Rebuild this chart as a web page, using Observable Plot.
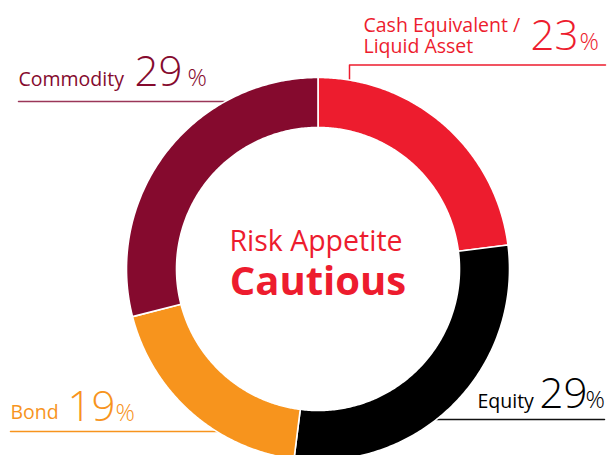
<!DOCTYPE html>
<html><head><meta charset="utf-8">
<script src="https://cdn.jsdelivr.net/npm/d3@7"></script>
<script src="https://cdn.jsdelivr.net/npm/@observablehq/plot@0.6"></script>
<style>
html,body{margin:0;padding:0;background:#fff;}
#chart svg{display:block;}
</style>
</head><body><div id="chart"></div>
<script>
// ---- data ----
const categories = ["Cash Equivalent / Liquid Asset", "Equity", "Bond", "Commodity"];
const labelText = ["Cash Equivalent /\nLiquid Asset", "Equity", "Bond", "Commodity"];
const shares = [23, 29, 19, 29];
const colors = ["#ED1C2E", "#000000", "#F7941D", "#850A2E"];
const lineColors = ["#ED1C2E", "#111111", "#F7941D", "#9A3658"];
const centerTitle = "Risk Appetite";
const centerValue = "Cautious";

// ---- layout (pixels) ----
const W = 611, H = 455;
const cx = 317.5, cy = 268.5, R = 191.5, r = 141.5;
const labelLayout = [
  {nameX: 363, nameY: 52, numX: 530, numY: 49, pctX: 579, line: [[605, 64.5], [349, 64.5], [349, 110]]},
  {nameX: 477, nameY: 407, numX: 539, numY: 407, pctX: 585, line: [[604, 419], [420, 419]]},
  {nameX: 10, nameY: 418, numX: 67, numY: 420, pctX: 115, line: [[10, 431], [240, 431]]},
  {nameX: 18, nameY: 85, numX: 134, numY: 85, pctX: 187, line: [[18, 101], [250, 101]]}
];

// ---- slices ----
const total = d3.sum(shares);
const slicePts = [];
let acc = 0;
categories.forEach((c, i) => {
  const a0 = acc / total * 2 * Math.PI, a1 = (acc + shares[i]) / total * 2 * Math.PI;
  acc += shares[i];
  const n = 160;
  for (let k = 0; k <= n; k++) { const a = a0 + (a1 - a0) * k / n; slicePts.push({cat: c, x: cx + R * Math.sin(a), y: cy - R * Math.cos(a)}); }
  for (let k = n; k >= 0; k--) { const a = a0 + (a1 - a0) * k / n; slicePts.push({cat: c, x: cx + r * Math.sin(a), y: cy - r * Math.cos(a)}); }
});

const labels = categories.map((c, i) => ({cat: c, name: labelText[i], num: String(shares[i]), ...labelLayout[i]}));
const leader = labels.flatMap((d, i) => d.line.map(([x, y]) => ({cat: d.cat, x, y, color: lineColors[i]})));

const font = "'Open Sans', 'Noto Sans', sans-serif";

const chart = Plot.plot({
  width: W, height: H,
  margin: 0,
  x: {domain: [0, W], range: [0, W], axis: null},
  y: {domain: [0, H], range: [0, H], axis: null},
  color: {domain: categories, range: colors},
  style: {fontFamily: font, background: "#fff"},
  marks: [
    Plot.line(leader, {x: "x", y: "y", z: "cat", stroke: d => d.color, strokeWidth: 1.5}),
    Plot.line(slicePts, {x: "x", y: "y", z: "cat", fill: "cat", stroke: "white", strokeWidth: 1.6, curve: "linear-closed"}),
    Plot.text(labels, {x: "nameX", y: "nameY", text: "name", fill: "cat", textAnchor: "start", lineAnchor: "bottom", fontSize: 19.5, lineHeight: 1.03, fontFamily: font}),
    Plot.text(labels, {x: "numX", y: "numY", text: "num", fill: "cat", textAnchor: "start", lineAnchor: "bottom", fontSize: 42, fontWeight: 300, fontFamily: font}),
    Plot.text(labels, {x: "pctX", y: "numY", text: () => "%", fill: "cat", textAnchor: "start", lineAnchor: "bottom", fontSize: 24, fontWeight: 300, fontFamily: font}),
    Plot.text([centerTitle], {x: () => cx - 2, y: () => 250, text: d => d, fill: colors[0], textAnchor: "middle", lineAnchor: "bottom", fontSize: 28.5, fontFamily: font}),
    Plot.text([centerValue], {x: () => cx, y: () => 294, text: d => d, fill: colors[0], textAnchor: "middle", lineAnchor: "bottom", fontSize: 40, fontWeight: "bold", fontFamily: font})
  ]
});
document.getElementById("chart").appendChild(chart);
</script>
</body></html>
